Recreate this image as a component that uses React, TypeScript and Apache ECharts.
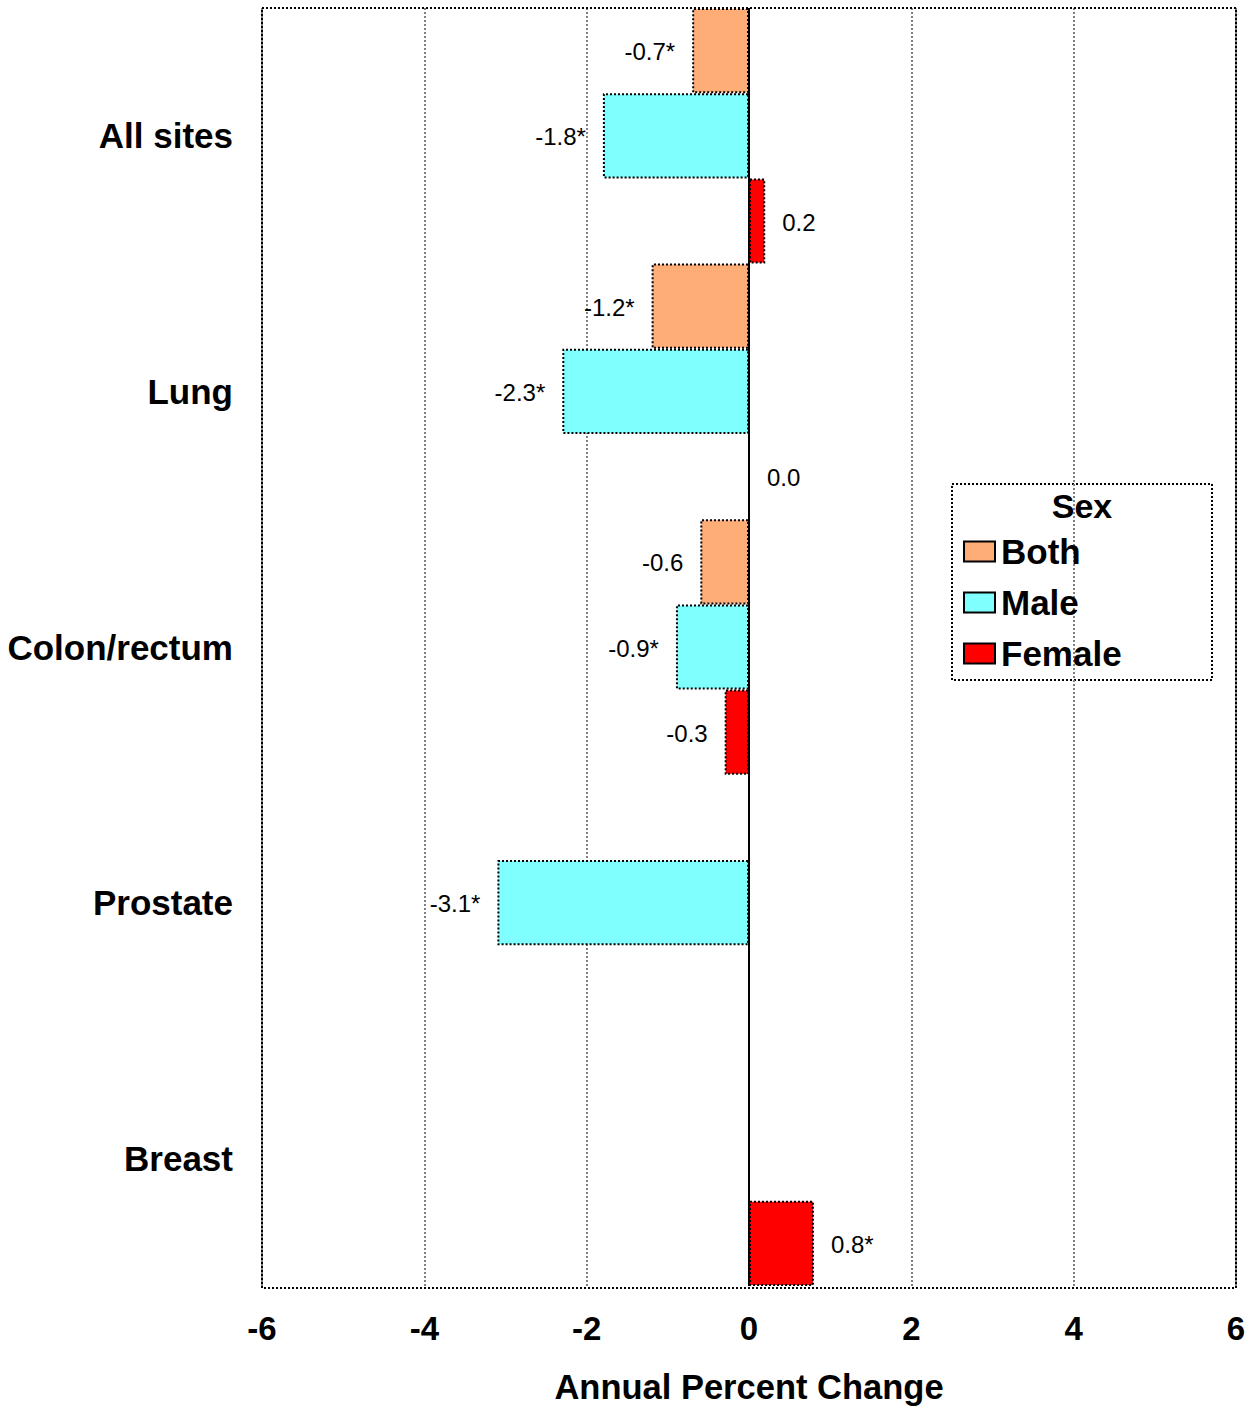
import React, { useEffect, useRef } from "react";
import * as echarts from "echarts";

const categories = ["All sites", "Lung", "Colon/rectum", "Prostate", "Breast"];
const seriesNames = ["Both", "Male", "Female"];
const bothValues: (number | null)[] = [-0.7, -1.2, -0.6, null, null];
const maleValues: (number | null)[] = [-1.8, -2.3, -0.9, -3.1, null];
const femaleValues: (number | null)[] = [0.2, 0.0, -0.3, null, 0.8];
const bothSignificant = [true, true, false, false, false];
const maleSignificant = [true, true, true, true, false];
const femaleSignificant = [false, false, false, false, true];
const xMin = -6;
const xMax = 6;
const xInterval = 2;
const colors = ["#FFAD77", "#80FFFF", "#FF0000"];

const FONT = "'Liberation Sans', Arial, sans-serif";

function buildData(values: (number | null)[], sig: boolean[]) {
  return values.map((v, i) => {
    if (v === null) return null;
    return {
      value: v,
      label: {
        position: v < 0 ? "left" : "right",
        formatter: v.toFixed(1) + (sig[i] ? "*" : ""),
      },
    };
  });
}

export default function App() {
  const ref = useRef<HTMLDivElement>(null);
  useEffect(() => {
    if (!ref.current) return;
    const chart = echarts.init(ref.current, undefined, { renderer: "svg" });
    const mkSeries = (name: string, values: (number | null)[], sig: boolean[], color: string, extra: any = {}) => ({
      name,
      type: "bar",
      data: buildData(values, sig),
      barGap: "0%",
      barCategoryGap: "0%",
      itemStyle: { color, borderColor: "#000", borderWidth: 2, borderType: [2, 2] },
      label: {
        show: true,
        distance: 17,
        color: "#000",
        fontSize: 24,
        fontFamily: FONT,
        offset: [0, 1],
      },
      ...extra,
    });
    chart.setOption({
      animation: false,
      textStyle: { fontFamily: FONT },
      grid: { left: 262, top: 8, right: 17, bottom: 121, containLabel: false },
      legend: {
        orient: "vertical",
        left: 963,
        top: 534,
        padding: 0,
        itemWidth: 31,
        itemHeight: 20,
        itemGap: 16,
        icon: "rect",
        data: seriesNames,
        textStyle: { fontSize: 35, fontWeight: "bold", color: "#000", fontFamily: FONT, padding: [0, 0, 0, 1] },
        selectedMode: false,
      },
      xAxis: {
        type: "value",
        min: xMin,
        max: xMax,
        interval: xInterval,
        name: "Annual Percent Change",
        nameLocation: "middle",
        nameGap: 83,
        nameTextStyle: { fontSize: 34.5, fontWeight: "bold", color: "#000", fontFamily: FONT },
        axisLine: { show: false },
        axisTick: { show: false },
        axisLabel: { fontSize: 33, fontWeight: "bold", color: "#000", margin: 26, fontFamily: FONT },
        splitLine: { show: true, lineStyle: { color: "#808080", width: 2, type: "dotted" } },
      },
      yAxis: {
        type: "category",
        data: categories,
        inverse: true,
        axisLine: { show: false, onZero: false },
        axisTick: { show: false },
        axisLabel: { fontSize: 35, fontWeight: "bold", color: "#000", margin: 29, fontFamily: FONT },
        splitLine: { show: false },
      },
      graphic: [
        {
          type: "rect",
          shape: { x: 262, y: 8, width: 974, height: 1280 },
          style: { fill: "none", stroke: "#000", lineWidth: 2, lineDash: [2, 2] },
          z: 100,
          silent: true,
        },
        {
          type: "rect",
          shape: { x: 952, y: 484, width: 260, height: 196 },
          style: { fill: "#fff", stroke: "#000", lineWidth: 2, lineDash: [2, 2] },
          z: -1,
          zlevel: 0,
          silent: true,
        },
        {
          type: "text",
          x: 1082,
          y: 506,
          style: {
            text: "Sex",
            fontSize: 34,
            fontWeight: "bold",
            fill: "#000",
            fontFamily: FONT,
            align: "center",
            verticalAlign: "middle",
          },
          z: 101,
          silent: true,
        },
      ],
      series: [
        mkSeries(seriesNames[0], bothValues, bothSignificant, colors[0]),
        mkSeries(seriesNames[1], maleValues, maleSignificant, colors[1]),
        mkSeries(seriesNames[2], femaleValues, femaleSignificant, colors[2], {
          markLine: {
            silent: true,
            symbol: ["none", "none"],
            label: { show: false },
            lineStyle: { color: "#000", width: 2, type: "solid" },
            data: [{ xAxis: 0 }],
          },
        }),
      ],
    });
    return () => chart.dispose();
  }, []);
  return (
    <div
      ref={ref}
      style={{ position: "absolute", left: 0, top: 0, width: 1253, height: 1409, background: "#fff" }}
    />
  );
}
